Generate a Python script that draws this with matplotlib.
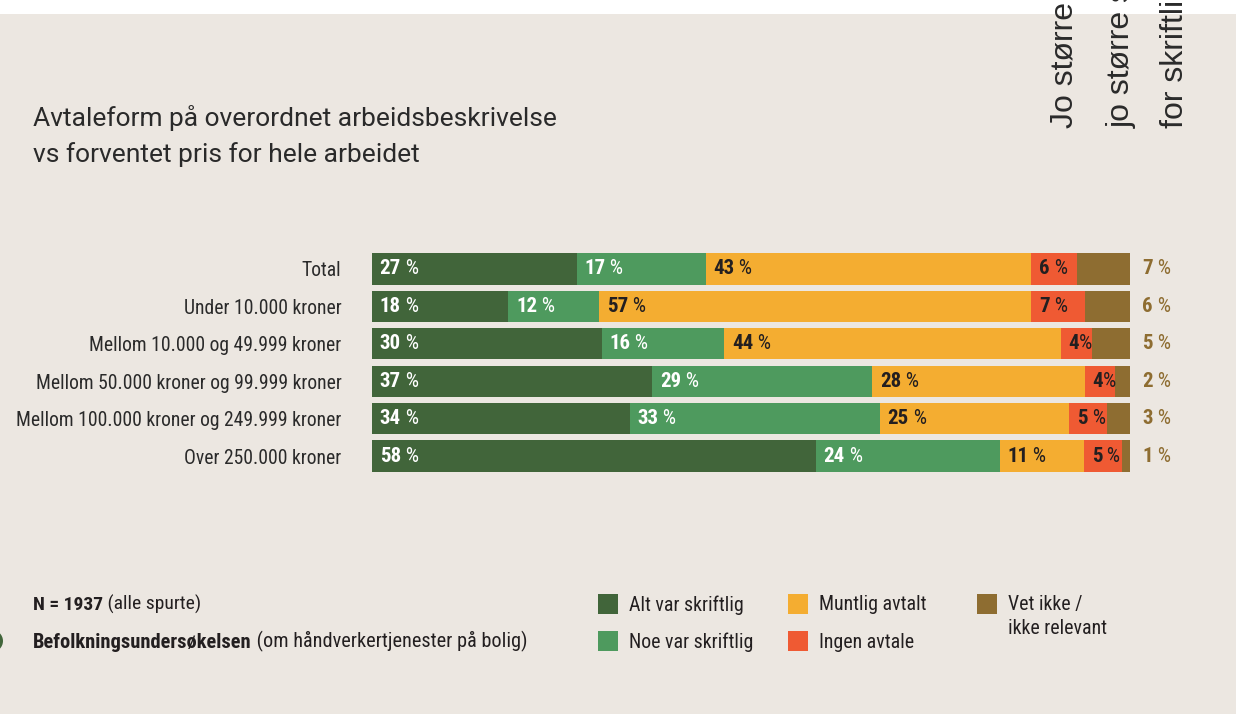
import matplotlib
matplotlib.use('Agg')
import matplotlib.pyplot as plt
from matplotlib import font_manager
from matplotlib.patches import Rectangle, Ellipse
import numpy as np

# Survey data: share of each agreement type per price band
categories = ['Total', 'Under 10.000 kroner', 'Mellom 10.000 og 49.999 kroner',
              'Mellom 50.000 kroner og 99.999 kroner',
              'Mellom 100.000 kroner og 249.999 kroner', 'Over 250.000 kroner']
alt_skriftlig = [27, 18, 30, 37, 34, 58]
noe_skriftlig = [17, 12, 16, 29, 33, 24]
muntlig = [43, 57, 44, 28, 25, 11]
ingen_avtale = [6, 7, 4, 4, 5, 5]
vet_ikke = [7, 6, 5, 2, 3, 1]

series_names = ['Alt var skriftlig', 'Noe var skriftlig', 'Muntlig avtalt',
                'Ingen avtale', 'Vet ikke /\nikke relevant']

BG = '#ece7e1'
colors = ['#41653a', '#4e9a5e', '#f4ad31', '#ef5a33', '#8e6d31']
text_colors = ['white', 'white', '#231f20', '#231f20', None]
DARK = '#231f20'

available = {f.name for f in font_manager.fontManager.ttflist}
def pick(*names):
    for n in names:
        if n in available:
            return n
    return 'DejaVu Sans'

COND = pick('Roboto Condensed', 'Liberation Sans Narrow', 'DejaVu Sans')
TITLE = pick('Roboto', 'Lato', 'DejaVu Sans')
HELV = pick('Liberation Sans', 'DejaVu Sans')
plt.rcParams['font.family'] = COND

W, H = 1236, 714
fig = plt.figure(figsize=(W / 100, H / 100), dpi=100)
fig.patch.set_facecolor(BG)

# white strip along the top edge
fig.patches.append(Rectangle((0, 1 - 14 / H), 1, 14 / H, transform=fig.transFigure,
                             facecolor='white', edgecolor='none', zorder=0))

# rotated heading lines running off the top edge
for x, s in [(1073, 'Jo større jobb,'), (1130, 'jo større sjanse'), (1183, 'for skriftlig avtale')]:
    fig.text(x / W, 1 - 128 / H, s, rotation=90, rotation_mode='anchor',
             ha='left', va='baseline', fontsize=23, family=HELV, color='#2a2a2a')

fig.text(33 / W, 1 - 136 / H, 'Avtaleform på overordnet arbeidsbeskrivelse\nvs forventet pris for hele arbeidet',
         fontsize=19, family=TITLE, color='#2a2a2a', va='center', ha='left', linespacing=1.55)

# bar chart area
ax = fig.add_axes([372 / W, 1 - 474.7 / H, (1130 - 372) / W, 224.4 / H])
ax.set_facecolor('none')
for sp in ax.spines.values():
    sp.set_visible(False)

data = np.array([alt_skriftlig, noe_skriftlig, muntlig, ingen_avtale, vet_ikke], dtype=float)
totals = data.sum(axis=0)
shares = data / totals * 100
y = np.arange(len(categories))
left = np.zeros(len(categories))

def pct_label(ax, x, yy, value, color, sep=' '):
    t = ax.annotate(f'{value}', (x, yy), ha='left', va='center', fontsize=15,
                    fontweight='bold', color=color, annotation_clip=False)
    ax.annotate(f'{sep}%', xy=(1, 0), xycoords=t, ha='left', va='bottom',
                fontsize=15, color=color, annotation_clip=False)

for k in range(5):
    ax.barh(y, shares[k], left=left, height=0.83, color=colors[k], edgecolor='none')
    for i in range(len(categories)):
        v = int(data[k, i])
        if k < 4:
            sep = '' if (k == 3 and v < 5) else ' '
            pct_label(ax, left[i] + 1.0, y[i], v, text_colors[k], sep)
        else:
            pct_label(ax, 101.6, y[i], v, colors[4])
    left += shares[k]

ax.set_xlim(0, 100)
ax.set_ylim(len(categories) - 0.5, -0.5)
ax.set_xticks([])
ax.set_yticks(y)
ax.set_yticklabels(categories, fontsize=14.1, color='#2a2a2a')
ax.tick_params(axis='y', length=0, pad=22)

# footnote: bold lead-in followed by regular text
t1 = fig.text(33 / W, 1 - 605 / H, 'N = 1937', fontsize=14, fontweight='bold', color=DARK, va='center')
ax.annotate(' (alle spurte)', xy=(1, 0), xycoords=t1, ha='left', va='bottom',
            fontsize=14, color=DARK, annotation_clip=False)
t2 = fig.text(33 / W, 1 - 642 / H, 'Befolkningsundersøkelsen', fontsize=14.8, fontweight='bold',
              color=DARK, va='center')
ax.annotate(' (om håndverkertjenester på bolig)', xy=(1, 0), xycoords=t2, ha='left', va='bottom',
            fontsize=14.6, color=DARK, annotation_clip=False)
fig.patches.append(Ellipse((-8 / W, 1 - 641 / H), 22 / W, 22 / H, transform=fig.transFigure,
                           facecolor='#41653a', edgecolor='none'))

# legend
legend_pos = [(598, 604), (598, 641), (788, 604), (788, 641), (977, 604)]
for (lx, ly), name, c in zip(legend_pos, series_names, colors):
    fig.patches.append(Rectangle((lx / W, 1 - (ly + 10) / H), 20 / W, 20 / H,
                                 transform=fig.transFigure, facecolor=c, edgecolor='none'))
    fig.text((lx + 31) / W, 1 - (ly + (-9 if '\n' in name else 1)) / H, name, fontsize=14.3,
             color=DARK, va='top' if '\n' in name else 'center', ha='left', linespacing=1.35)

fig.savefig('out.png', dpi=100, facecolor=BG)
